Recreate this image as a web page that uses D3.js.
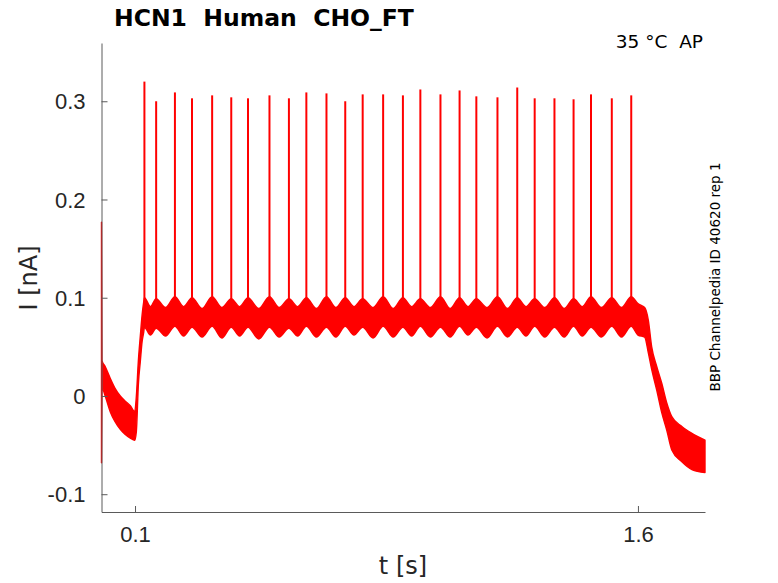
<!DOCTYPE html>
<html>
<head>
<meta charset="utf-8">
<script src="https://cdn.jsdelivr.net/npm/d3@7"></script>
<style>
  body { margin: 0; background: #fff; }
  svg { display: block; font-family: "DejaVu Sans", sans-serif; }
</style>
</head>
<body>
<div id="chart"></div>
<script>
// ==========================================
// HCN1 Human CHO_FT - AP protocol current trace
// ==========================================

// 1. DATA
// The recorded trace is noisy, so it is kept as a band:
// time (s), upper edge and lower edge of the noise (nA).
const envT = [
    0.000, 0.0015, 0.011, 0.026, 0.040, 0.056, 0.070, 0.086, 0.099, 0.104, 0.110, 0.116, 0.121, 0.126,
    0.128, 0.146, 0.163, 0.191, 0.219, 0.245, 0.270, 0.300, 0.330, 0.359, 0.387, 0.412, 0.437, 0.469,
    0.501, 0.530, 0.559, 0.585, 0.611, 0.641, 0.671, 0.699, 0.727, 0.753, 0.779, 0.810, 0.840, 0.870,
    0.899, 0.925, 0.951, 0.981, 1.011, 1.040, 1.068, 1.093, 1.118, 1.150, 1.181, 1.211, 1.240, 1.266,
    1.292, 1.322, 1.351, 1.380, 1.408, 1.434, 1.460, 1.491, 1.522, 1.551, 1.580,
    1.600, 1.620, 1.631, 1.641, 1.656, 1.671, 1.686, 1.701, 1.731, 1.761, 1.800
];
const envHi = [
    0.177, 0.036, 0.030, 0.018, 0.008, 0.000, -0.005, -0.010, -0.016, 0.000, 0.036, 0.062, 0.082, 0.096,
    0.100, 0.091, 0.099, 0.090, 0.101, 0.091, 0.100, 0.089, 0.101, 0.090, 0.099, 0.091, 0.100, 0.089,
    0.101, 0.090, 0.099, 0.091, 0.100, 0.089, 0.101, 0.090, 0.100, 0.091, 0.099, 0.090, 0.101, 0.089,
    0.100, 0.091, 0.099, 0.090, 0.101, 0.089, 0.100, 0.091, 0.099, 0.090, 0.101, 0.089, 0.100, 0.091,
    0.099, 0.090, 0.100, 0.089, 0.099, 0.091, 0.101, 0.090, 0.100, 0.090, 0.101,
    0.094, 0.090, 0.077, 0.050, 0.030, 0.013, -0.007, -0.021, -0.031, -0.038, -0.045
];
const envLo = [
    -0.068, 0.008, 0.000, -0.016, -0.026, -0.034, -0.039, -0.043, -0.045, -0.036, 0.012, 0.036, 0.055, 0.065,
    0.070, 0.062, 0.069, 0.061, 0.071, 0.061, 0.070, 0.060, 0.071, 0.059, 0.070, 0.061, 0.070, 0.058,
    0.070, 0.060, 0.069, 0.061, 0.071, 0.060, 0.070, 0.060, 0.071, 0.062, 0.070, 0.059, 0.071, 0.060,
    0.070, 0.061, 0.071, 0.060, 0.070, 0.060, 0.071, 0.062, 0.070, 0.059, 0.071, 0.060, 0.070, 0.061,
    0.071, 0.060, 0.070, 0.060, 0.071, 0.061, 0.070, 0.060, 0.071, 0.060, 0.071,
    0.062, 0.060, 0.044, 0.027, 0.006, -0.017, -0.035, -0.055, -0.067, -0.075, -0.078
];

// Spikes riding on the plateau: time (s) and peak current (nA)
const spikeT = [
    0.128, 0.163, 0.219, 0.270, 0.330, 0.387, 0.437, 0.501, 0.559, 0.611, 0.671, 0.727, 0.779, 0.840,
    0.899, 0.951, 1.011, 1.068, 1.118, 1.181, 1.240, 1.292, 1.351, 1.408, 1.460, 1.522, 1.580
];
const spikePeak = [
    0.320, 0.300, 0.309, 0.303, 0.306, 0.304, 0.303, 0.306, 0.303, 0.309, 0.308, 0.300, 0.307, 0.307,
    0.306, 0.312, 0.307, 0.311, 0.305, 0.304, 0.314, 0.303, 0.303, 0.302, 0.307, 0.303, 0.306
];

const xTicks = [0.1, 1.6];
const yTicks = [-0.1, 0, 0.1, 0.2, 0.3];

const band = envT.map((t, i) => ({ t: t, hi: envHi[i], lo: envLo[i] }));
const spikes = spikeT.map((t, i) => ({ t: t, peak: spikePeak[i] }));

// 2. SETUP
const W = 778, H = 583;
const svg = d3.select("#chart").append("svg")
    .attr("width", W)
    .attr("height", H);

const x = d3.scaleLinear().domain([0, 1.8]).range([101.5, 705]);
const y = d3.scaleLinear().domain([-0.1181, 0.3593]).range([512, 43]);

// matlab style labels: plain hyphen minus, "0" without decimals
const tickFmt = d => d === 0 ? "0" : d.toFixed(1);

// 3. TRACE (noise band + spikes)
const area = d3.area()
    .x(d => x(d.t))
    .y0(d => y(d.lo))
    .y1(d => y(d.hi))
    .curve(d3.curveMonotoneX);

svg.append("path")
    .datum(band)
    .attr("d", area)
    .attr("fill", "#ff0000")
    .attr("stroke", "#ff0000")
    .attr("stroke-width", 1.4)
    .attr("stroke-linejoin", "round");

svg.append("g")
    .selectAll("line")
    .data(spikes)
    .join("line")
    .attr("x1", d => x(d.t))
    .attr("x2", d => x(d.t))
    .attr("y1", y(0.08))
    .attr("y2", d => y(d.peak))
    .attr("stroke", "#ff0000")
    .attr("stroke-width", 2);

// 4. AXES (ticks pointing inward, no box)
const axisColor = "#5a5a5a";
const textColor = "#262626";

const xAxis = svg.append("g")
    .attr("transform", `translate(0,512)`)
    .call(d3.axisTop(x).tickValues(xTicks).tickSize(6).tickFormat(tickFmt).tickSizeOuter(0));
xAxis.select(".domain").attr("stroke", axisColor);
xAxis.selectAll(".tick line").attr("stroke", axisColor);
xAxis.selectAll(".tick text")
    .attr("y", 30)
    .attr("dy", 0)
    .attr("fill", textColor)
    .style("font-size", "22px");

const yAxis = svg.append("g")
    .attr("transform", `translate(101.5,0)`)
    .call(d3.axisRight(y).tickValues(yTicks).tickSize(6).tickFormat(tickFmt).tickSizeOuter(0));
yAxis.select(".domain").attr("stroke", axisColor);
yAxis.selectAll(".tick line").attr("stroke", axisColor);
yAxis.selectAll(".tick text")
    .attr("x", -16)
    .attr("text-anchor", "end")
    .attr("dy", "0.35em")
    .attr("fill", textColor)
    .style("font-size", "22px");

// 5. LABELS
svg.append("text")
    .attr("x", 403)
    .attr("y", 574)
    .attr("text-anchor", "middle")
    .attr("fill", textColor)
    .style("font-size", "24px")
    .text("t [s]");

svg.append("text")
    .attr("transform", "translate(37,278) rotate(-90)")
    .attr("text-anchor", "middle")
    .attr("fill", textColor)
    .style("font-size", "24px")
    .text("I [nA]");

svg.append("text")
    .attr("x", 114)
    .attr("y", 26)
    .attr("fill", "#000")
    .style("font-size", "23.5px")
    .style("font-weight", "bold")
    .style("white-space", "pre")
    .text("HCN1  Human  CHO_FT");

svg.append("text")
    .attr("x", 703)
    .attr("y", 48)
    .attr("text-anchor", "end")
    .attr("fill", "#000")
    .style("font-size", "18.5px")
    .style("white-space", "pre")
    .text("35 °C  AP");

svg.append("text")
    .attr("transform", "translate(720,277) rotate(-90)")
    .attr("text-anchor", "middle")
    .attr("fill", "#000")
    .style("font-size", "13.5px")
    .text("BBP Channelpedia ID 40620 rep 1");
</script>
</body>
</html>
